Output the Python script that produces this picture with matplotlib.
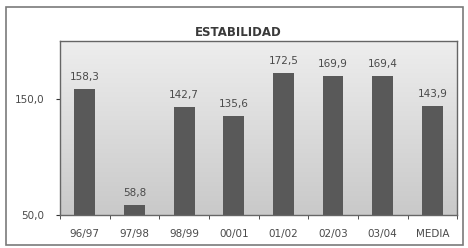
import matplotlib
matplotlib.use("Agg")
import matplotlib.pyplot as plt
import numpy as np
from matplotlib.patches import Rectangle
from matplotlib.colors import LinearSegmentedColormap

categories = ["96/97", "97/98", "98/99", "00/01", "01/02", "02/03", "03/04", "MEDIA"]
values = [158.3, 58.8, 142.7, 135.6, 172.5, 169.9, 169.4, 143.9]
labels = ["158,3", "58,8", "142,7", "135,6", "172,5", "169,9", "169,4", "143,9"]
ytick_vals = [50, 150]
ytick_labels = ["50,0", "150,0"]

fig = plt.figure(figsize=(4.68, 2.48), dpi=100)
fig.patch.set_facecolor("white")
fig.patches.append(Rectangle((0.013, 0.012), 0.976, 0.96, transform=fig.transFigure,
                             fill=False, edgecolor="#7a7a7a", linewidth=1.2))

ax = fig.add_axes([0.128, 0.133, 0.849, 0.702])
n = len(categories)
x = np.arange(n)
ax.set_xlim(-0.5, n - 0.5)
ax.set_ylim(50, 200)

grad = np.linspace(0, 1, 256).reshape(-1, 1)
cmap = LinearSegmentedColormap.from_list("g", ["#c9c9c9", "#eeeeee"])
ax.imshow(grad, aspect="auto", cmap=cmap, origin="lower",
          extent=(-0.5, n - 0.5, 50, 200), zorder=0)

ax.bar(x, np.array(values) - 50, bottom=50, width=0.42, color="#595959", zorder=2)
for xi, v, lab in zip(x, values, labels):
    ax.text(xi, v + 6, lab, ha="center", va="bottom", fontsize=7.5, color="#4a4a4a")

ax.set_yticks(ytick_vals)
ax.set_yticklabels(ytick_labels, fontsize=7.5, color="#4a4a4a")
ax.set_xticks(x)
ax.set_xticklabels(categories, fontsize=7.5, color="#4a4a4a")
ax.tick_params(axis="x", length=0, pad=10)
ax.set_xticks(np.arange(n + 1) - 0.5, minor=True)
ax.tick_params(axis="x", which="minor", length=3, direction="out", color="#333333")
ax.tick_params(axis="y", length=3, direction="out", color="#333333", pad=8)
for s in ax.spines.values():
    s.set_color("#666666")
    s.set_linewidth(1.0)

fig.text(0.51, 0.87, "ESTABILIDAD", ha="center", va="center", fontsize=8.5,
         fontweight="bold", color="#3a3a3a")

fig.savefig("out.png", dpi=100)
